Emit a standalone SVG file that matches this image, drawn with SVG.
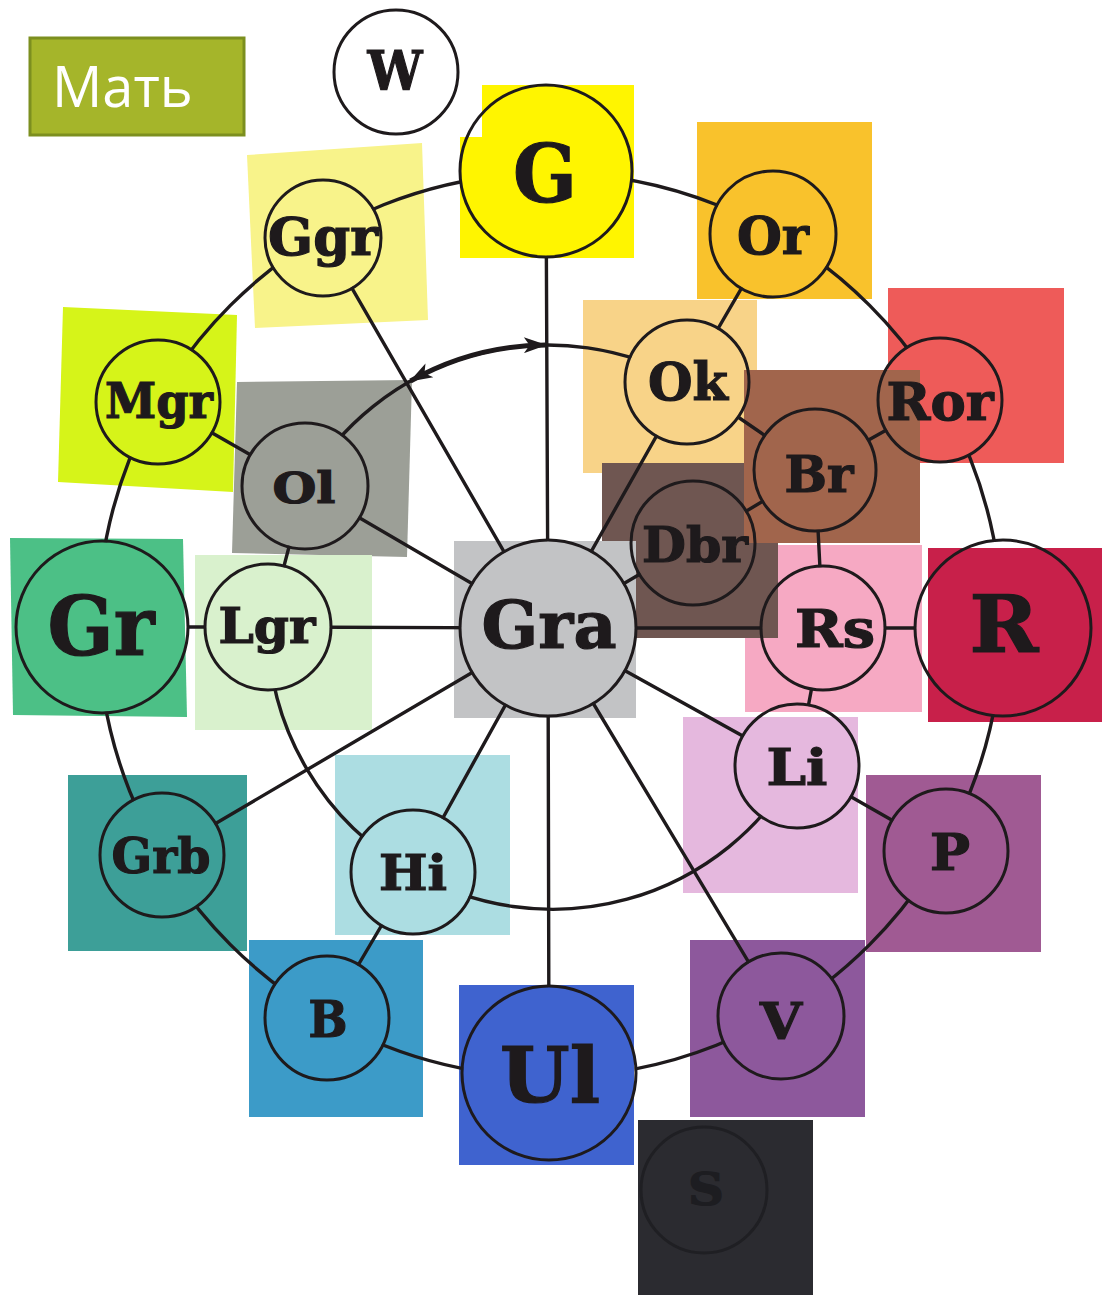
<svg xmlns="http://www.w3.org/2000/svg" width="1102" height="1297" viewBox="0 0 1102 1297">
<style>
.sq{stroke:none}
.nc{fill:none;stroke:#1e1a1c;stroke-width:3}
.lb{font-family:"DejaVu Serif","Liberation Serif",serif;font-weight:bold;fill:#1e1a1c;stroke:#1e1a1c;stroke-width:1.2;text-anchor:middle}
.ln{fill:none;stroke:#1e1a1c;stroke-width:3.4;stroke-linecap:round}
</style>
<defs>
<marker id="ah" viewBox="0 0 20 14" refX="19" refY="7" markerWidth="24" markerHeight="16" markerUnits="userSpaceOnUse" orient="auto-start-reverse">
<path d="M0,0 L20,7 L0,14 L5,7 Z" fill="#1e1a1c"/>
</marker>
<mask id="holes" maskUnits="userSpaceOnUse" x="0" y="0" width="1102" height="1297">
<rect x="0" y="0" width="1102" height="1297" fill="#fff"/>
<g fill="#000">
<circle cx="546" cy="171" r="85"/>
<circle cx="323" cy="238" r="57"/>
<circle cx="773" cy="234" r="62"/>
<circle cx="158" cy="402" r="61"/>
<circle cx="305" cy="486" r="62"/>
<circle cx="102" cy="627" r="85"/>
<circle cx="268" cy="627" r="62"/>
<circle cx="687" cy="382" r="61"/>
<circle cx="940" cy="400" r="61"/>
<circle cx="815" cy="470" r="60"/>
<circle cx="693" cy="543" r="61"/>
<circle cx="548" cy="628" r="87"/>
<circle cx="823" cy="628" r="61"/>
<circle cx="1003" cy="628" r="87"/>
<circle cx="797" cy="766" r="61"/>
<circle cx="946" cy="851" r="61"/>
<circle cx="162" cy="855" r="61"/>
<circle cx="413" cy="872" r="61"/>
<circle cx="327" cy="1018" r="61"/>
<circle cx="549" cy="1073" r="86"/>
<circle cx="781" cy="1016" r="62"/>
</g>
</mask>
</defs>

<rect width="1102" height="1297" fill="#ffffff"/>

<!-- colour squares -->
<g id="squares">
<rect class="sq" x="697" y="122" width="175" height="177" fill="#f9c22c"/>
<polygon class="sq" points="247,155 422,143 428,320 255,328" fill="#f8f38a"/>
<polygon class="sq" points="482,85 634,85 634,258 460,258 460,137 482,137" fill="#fff500"/>
<polygon class="sq" points="63,307 237,315 233,492 58,482" fill="#d6f419"/>
<polygon class="sq" points="237,382 412,380 407,557 232,553" fill="#9c9f97"/>
<rect class="sq" x="195" y="555" width="177" height="175" fill="#d9f1cd"/>
<polygon class="sq" points="10,538 183,539 187,717 13,715" fill="#4cc086"/>
<rect class="sq" x="583" y="300" width="174" height="173" fill="#f8d388"/>
<rect class="sq" x="888" y="288" width="176" height="175" fill="#ee5b59"/>
<rect class="sq" x="745" y="545" width="177" height="167" fill="#f6a9c3"/>
<rect class="sq" x="602" y="463" width="176" height="175" fill="#6f5651"/>
<rect class="sq" x="744" y="370" width="176" height="173" fill="#a1654c"/>
<rect class="sq" x="454" y="541" width="182" height="177" fill="#c2c3c5"/>
<rect class="sq" x="928" y="548" width="174" height="174" fill="#c8204a"/>
<rect class="sq" x="683" y="717" width="175" height="176" fill="#e5b8de"/>
<rect class="sq" x="866" y="775" width="175" height="177" fill="#a05a93"/>
<rect class="sq" x="68" y="775" width="179" height="176" fill="#3d9f98"/>
<rect class="sq" x="335" y="755" width="175" height="180" fill="#acdde2"/>
<rect class="sq" x="249" y="940" width="174" height="177" fill="#3c9bc8"/>
<rect class="sq" x="459" y="985" width="175" height="180" fill="#3f63cf"/>
<rect class="sq" x="690" y="940" width="175" height="177" fill="#8d589c"/>
<rect class="sq" x="638" y="1120" width="175" height="175" fill="#2b2b30"/>
</g>

<!-- connectors -->
<g id="connectors" mask="url(#holes)">
<circle class="ln" cx="550" cy="625" r="452"/>
<path class="ln" d="M305,486 A280,280 0 0 1 687,382"/>
<path class="ln" d="M268,627 A280,280 0 0 0 413,872"/>
<path class="ln" d="M413,872 A280,280 0 0 0 797,766"/>
<path class="ln" d="M305,486 L268,627"/>
<path class="ln" d="M687,382 L815,470 L823,628 L797,766"/>
<path class="ln" d="M773,234 L687,382"/>
<path class="ln" d="M940,400 L815,470"/>
<path class="ln" d="M1003,628 L823,628"/>
<path class="ln" d="M946,851 L797,766"/>
<path class="ln" d="M327,1018 L413,872"/>
<path class="ln" d="M102,627 L268,627"/>
<path class="ln" d="M158,402 L305,486"/>
<path class="ln" d="M693,543 L815,470"/>
<path class="ln" d="M548,628 L546,171"/>
<path class="ln" d="M548,628 L323,238"/>
<path class="ln" d="M548,628 L305,486"/>
<path class="ln" d="M548,628 L268,627"/>
<path class="ln" d="M548,628 L162,855"/>
<path class="ln" d="M548,628 L413,872"/>
<path class="ln" d="M548,628 L549,1073"/>
<path class="ln" d="M548,628 L781,1016"/>
<path class="ln" d="M548,628 L797,766"/>
<path class="ln" d="M548,628 L823,628"/>
<path class="ln" d="M548,628 L693,543"/>
<path class="ln" d="M548,628 L687,382"/>
<path d="M410.5,381 A280,280 0 0 1 545.6,345" fill="none" stroke="#1e1a1c" stroke-width="5" marker-start="url(#ah)" marker-end="url(#ah)"/>
</g>

<!-- nodes -->
<g id="node-W"><circle cx="396" cy="72" r="62" fill="#fff" stroke="#1e1a1c" stroke-width="3"/><text class="lb" x="395" y="90" font-size="54" textLength="55" lengthAdjust="spacingAndGlyphs">W</text></g>
<g id="node-G"><circle class="nc" cx="546" cy="171" r="86"/><text class="lb" x="545" y="202" font-size="81" textLength="64" lengthAdjust="spacingAndGlyphs">G</text></g>
<g id="node-Ggr"><circle class="nc" cx="323" cy="238" r="58"/><text class="lb" x="323" y="255" font-size="52" textLength="110" lengthAdjust="spacingAndGlyphs">Ggr</text></g>
<g id="node-Or"><circle class="nc" cx="773" cy="234" r="63"/><text class="lb" x="773" y="254" font-size="52" textLength="72" lengthAdjust="spacingAndGlyphs">Or</text></g>
<g id="node-Mgr"><circle class="nc" cx="158" cy="402" r="62"/><text class="lb" x="159" y="418" font-size="49" textLength="108" lengthAdjust="spacingAndGlyphs">Mgr</text></g>
<g id="node-Ol"><circle class="nc" cx="305" cy="486" r="63"/><text class="lb" x="304" y="503" font-size="42" textLength="63" lengthAdjust="spacingAndGlyphs">Ol</text></g>
<g id="node-Gr"><circle class="nc" cx="102" cy="627" r="86"/><text class="lb" x="101" y="655" font-size="82" textLength="107" lengthAdjust="spacingAndGlyphs">Gr</text></g>
<g id="node-Lgr"><circle class="nc" cx="268" cy="627" r="63"/><text class="lb" x="267" y="643" font-size="49" textLength="97" lengthAdjust="spacingAndGlyphs">Lgr</text></g>
<g id="node-Ok"><circle class="nc" cx="687" cy="382" r="62"/><text class="lb" x="688" y="400" font-size="52" textLength="80" lengthAdjust="spacingAndGlyphs">Ok</text></g>
<g id="node-Ror"><circle class="nc" cx="940" cy="400" r="62"/><text class="lb" x="940" y="420" font-size="52" textLength="107" lengthAdjust="spacingAndGlyphs">Ror</text></g>
<g id="node-Br"><circle class="nc" cx="815" cy="470" r="61"/><text class="lb" x="819" y="492" font-size="50" textLength="69" lengthAdjust="spacingAndGlyphs">Br</text></g>
<g id="node-Dbr"><circle class="nc" cx="693" cy="543" r="62"/><text class="lb" x="695" y="562" font-size="49" textLength="106" lengthAdjust="spacingAndGlyphs">Dbr</text></g>
<g id="node-Gra"><circle class="nc" cx="548" cy="628" r="88"/><text class="lb" x="549" y="648" font-size="66" textLength="135" lengthAdjust="spacingAndGlyphs">Gra</text></g>
<g id="node-Rs"><circle class="nc" cx="823" cy="628" r="62"/><text class="lb" x="835" y="647" font-size="52" textLength="80" lengthAdjust="spacingAndGlyphs">Rs</text></g>
<g id="node-R"><circle class="nc" cx="1003" cy="628" r="88"/><text class="lb" x="1004" y="652" font-size="78" textLength="69" lengthAdjust="spacingAndGlyphs">R</text></g>
<g id="node-Li"><circle class="nc" cx="797" cy="766" r="62"/><text class="lb" x="797" y="785" font-size="50" textLength="61" lengthAdjust="spacingAndGlyphs">Li</text></g>
<g id="node-P"><circle class="nc" cx="946" cy="851" r="62"/><text class="lb" x="950" y="870" font-size="50" textLength="40" lengthAdjust="spacingAndGlyphs">P</text></g>
<g id="node-Grb"><circle class="nc" cx="162" cy="855" r="62"/><text class="lb" x="161" y="873" font-size="49" textLength="99" lengthAdjust="spacingAndGlyphs">Grb</text></g>
<g id="node-Hi"><circle class="nc" cx="413" cy="872" r="62"/><text class="lb" x="413" y="890" font-size="48" textLength="68" lengthAdjust="spacingAndGlyphs">Hi</text></g>
<g id="node-B"><circle class="nc" cx="327" cy="1018" r="62"/><text class="lb" x="328" y="1037" font-size="50" textLength="39" lengthAdjust="spacingAndGlyphs">B</text></g>
<g id="node-Ul"><circle class="nc" cx="549" cy="1073" r="87"/><text class="lb" x="550" y="1102" font-size="76" textLength="100" lengthAdjust="spacingAndGlyphs">Ul</text></g>
<g id="node-V"><circle class="nc" cx="781" cy="1016" r="63"/><text class="lb" x="781" y="1039" font-size="50" textLength="42" lengthAdjust="spacingAndGlyphs">V</text></g>
<g id="node-S"><circle cx="704" cy="1190" r="63" fill="none" stroke="#1f1f23" stroke-width="3"/><text class="lb" x="706" y="1205" font-size="45" textLength="36" lengthAdjust="spacingAndGlyphs" style="fill:#1d1d21;stroke:#1d1d21">S</text></g>

<g id="title">
<rect x="30" y="38" width="214" height="97" fill="#a5b52a" stroke="#7c8f1f" stroke-width="3"/>
<text x="52" y="107" font-family="'Open Sans','Noto Sans','Liberation Sans',sans-serif" font-size="56" fill="#ffffff">Мать</text>
</g>
</svg>
